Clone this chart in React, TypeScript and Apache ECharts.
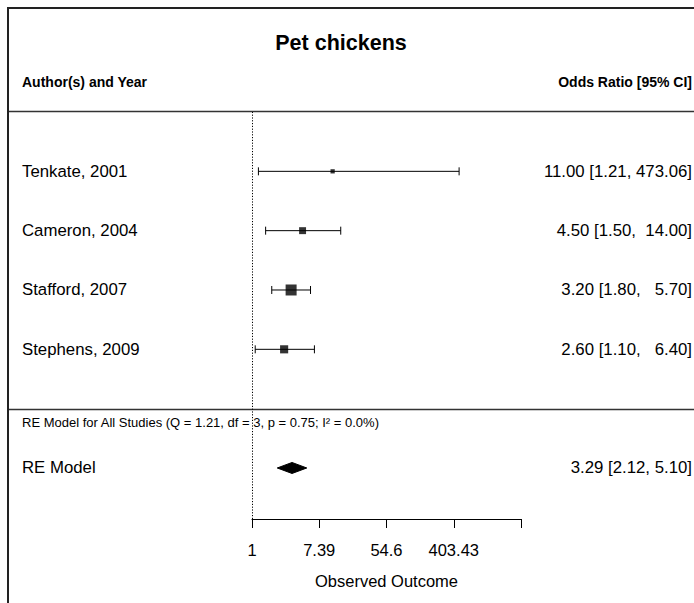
import React, { useEffect, useRef } from "react";
import * as echarts from "echarts";

const chartTitle = "Pet chickens";
const leftHeader = "Author(s) and Year";
const rightHeader = "Odds Ratio [95% CI]";
const studies = ["Tenkate, 2001", "Cameron, 2004", "Stafford, 2007", "Stephens, 2009"];
const estimates = [11.0, 4.5, 3.2, 2.6];
const lowerCI = [1.21, 1.5, 1.8, 1.1];
const upperCI = [473.06, 14.0, 5.7, 6.4];
const studyRows = [5, 4, 3, 2];
const reLabel = "RE Model";
const reEstimate = 3.29;
const reLower = 2.12;
const reUpper = 5.1;
const reRow = 0;
const reStats = "RE Model for All Studies (Q = 1.21, df = 3, p = 0.75; I\u00B2 = 0.0%)";
const tickValues = [0, 2, 4, 6, 8]; // natural-log scale
const tickLabels = ["1", "7.39", "54.6", "403.43", ""];
const axisTitle = "Observed Outcome";

const FONT = "'Liberation Sans', Arial, sans-serif";
const NBSP = "\u00A0";

// marker size like metafor: 1/sqrt(vi) rescaled
const precision = lowerCI.map((lo, i) => 3.92 / (Math.log(upperCI[i]) - Math.log(lo)));
const pMin = Math.min(...precision);
const pMax = Math.max(...precision);
const psize = precision.map((p) => 0.5 + (1.5 * (p - pMin)) / (pMax - pMin));
const markerPx = psize.map((s) => 2 + 4.5 * s);

// padded annotation strings (R style, padded to common width)
const fmt = (v: number) => v.toFixed(2);
const padW = (arr: number[]) => Math.max(...arr.map((v) => fmt(v).length));
const pad = (v: number, w: number) => NBSP.repeat(w - fmt(v).length) + fmt(v);
const wE = padW(estimates);
const wL = padW(lowerCI);
const wU = padW(upperCI);
const annot = studies.map(
  (_, i) => `${pad(estimates[i], wE)} [${pad(lowerCI[i], wL)},${NBSP}${pad(upperCI[i], wU)}]`
);

export default function App() {
  const ref = useRef<HTMLDivElement>(null);
  useEffect(() => {
    if (!ref.current) return;
    const chart = echarts.init(ref.current, null, { renderer: "svg" });

    const studyData = studies.map((_, i) => [
      Math.log(estimates[i]),
      studyRows[i],
      Math.log(lowerCI[i]),
      Math.log(upperCI[i]),
    ]);
    const squareData = studies.map((_, i) => ({
      value: [Math.log(estimates[i]), studyRows[i]],
      symbolSize: markerPx[i],
    }));

    const mainFont = `16.8px ${FONT}`;

    const option: any = {
      animation: false,
      grid: { left: 252, right: 173, top: 112, bottom: 84 },
      xAxis: {
        type: "value",
        min: tickValues[0],
        max: tickValues[tickValues.length - 1],
        interval: 2,
        splitLine: { show: false },
        axisLine: { show: true, onZero: false, lineStyle: { color: "#000", width: 1 } },
        axisTick: { show: true, length: 9, inside: false, lineStyle: { color: "#000", width: 1 } },
        axisLabel: {
          show: true,
          margin: 22,
          fontSize: 16.5,
          color: "#000",
          fontFamily: FONT,
          showMinLabel: true,
          showMaxLabel: true,
          formatter: (v: number) => {
            const idx = tickValues.indexOf(v);
            return idx >= 0 ? tickLabels[idx] : "";
          },
        },
        name: axisTitle,
        nameLocation: "middle",
        nameGap: 53,
        nameTextStyle: { fontSize: 16.5, color: "#000", fontFamily: FONT },
      },
      yAxis: {
        type: "value",
        min: -0.86,
        max: 6,
        show: false,
        splitLine: { show: false },
      },
      graphic: [
        { type: "line", shape: { x1: 7, y1: 8, x2: 694, y2: 8 }, style: { stroke: "#222", lineWidth: 2 } },
        { type: "line", shape: { x1: 8, y1: 7, x2: 8, y2: 603 }, style: { stroke: "#222", lineWidth: 2 } },
        { type: "line", shape: { x1: 9, y1: 111.5, x2: 694, y2: 111.5 }, style: { stroke: "#333", lineWidth: 1.3 } },
        { type: "line", shape: { x1: 9, y1: 409.5, x2: 694, y2: 409.5 }, style: { stroke: "#333", lineWidth: 1.3 } },
        {
          type: "text",
          x: 341,
          y: 43,
          style: { text: chartTitle, fill: "#000", font: `bold 21.5px ${FONT}`, align: "center", verticalAlign: "middle" },
        },
        {
          type: "text",
          x: 22,
          y: 82,
          style: { text: leftHeader, fill: "#000", font: `bold 14px ${FONT}`, align: "left", verticalAlign: "middle" },
        },
        {
          type: "text",
          x: 692,
          y: 82,
          style: { text: rightHeader, fill: "#000", font: `bold 14px ${FONT}`, align: "right", verticalAlign: "middle" },
        },
        {
          type: "text",
          x: 22,
          y: 422,
          style: { text: reStats, fill: "#000", font: `13px ${FONT}`, align: "left", verticalAlign: "middle" },
        },
      ],
      series: [
        {
          type: "custom",
          name: "studies",
          clip: false,
          encode: { x: [0, 2, 3], y: 1 },
          data: studyData,
          renderItem: (params: any, api: any) => {
            const i = params.dataIndex;
            const row = api.value(1);
            const [xLo, y] = api.coord([api.value(2), row]);
            const [xHi] = api.coord([api.value(3), row]);
            const ls = { stroke: "#000", lineWidth: 1 };
            return {
              type: "group",
              children: [
                { type: "line", shape: { x1: xLo, y1: y, x2: xHi, y2: y }, style: ls },
                { type: "line", shape: { x1: xLo, y1: y - 4, x2: xLo, y2: y + 4 }, style: ls },
                { type: "line", shape: { x1: xHi, y1: y - 4, x2: xHi, y2: y + 4 }, style: ls },
                {
                  type: "text",
                  x: 22,
                  y,
                  style: { text: studies[i], fill: "#000", font: mainFont, align: "left", verticalAlign: "middle" },
                },
                {
                  type: "text",
                  x: 692,
                  y,
                  style: { text: annot[i], fill: "#000", font: mainFont, align: "right", verticalAlign: "middle" },
                },
              ],
            };
          },
        },
        {
          type: "scatter",
          name: "estimates",
          symbol: "rect",
          itemStyle: { color: "#000" },
          data: squareData,
          markLine: {
            silent: true,
            symbol: "none",
            label: { show: false },
            lineStyle: { type: [1.2, 1.6], color: "#000", width: 1 },
            data: [{ xAxis: 0 }],
          },
        },
        {
          type: "custom",
          name: "summary",
          clip: false,
          encode: { x: [0, 2, 3], y: 1 },
          data: [[Math.log(reEstimate), reRow, Math.log(reLower), Math.log(reUpper)]],
          renderItem: (params: any, api: any) => {
            const row = api.value(1);
            const [xEst, y] = api.coord([api.value(0), row]);
            const [xLo] = api.coord([api.value(2), row]);
            const [xHi] = api.coord([api.value(3), row]);
            const h = 5.5;
            return {
              type: "group",
              children: [
                {
                  type: "polygon",
                  shape: { points: [[xLo, y], [xEst, y - h], [xHi, y], [xEst, y + h]] },
                  style: { fill: "#000", stroke: "#000", lineWidth: 1 },
                },
                {
                  type: "text",
                  x: 22,
                  y,
                  style: { text: reLabel, fill: "#000", font: mainFont, align: "left", verticalAlign: "middle" },
                },
                {
                  type: "text",
                  x: 692,
                  y,
                  style: {
                    text: `${fmt(reEstimate)} [${fmt(reLower)}, ${fmt(reUpper)}]`,
                    fill: "#000",
                    font: mainFont,
                    align: "right",
                    verticalAlign: "middle",
                  },
                },
              ],
            };
          },
        },
      ],
    };
    chart.setOption(option);
    return () => chart.dispose();
  }, []);

  return (
    <div
      ref={ref}
      style={{ position: "fixed", left: 0, top: 0, width: 694, height: 603, background: "#fff" }}
    />
  );
}
